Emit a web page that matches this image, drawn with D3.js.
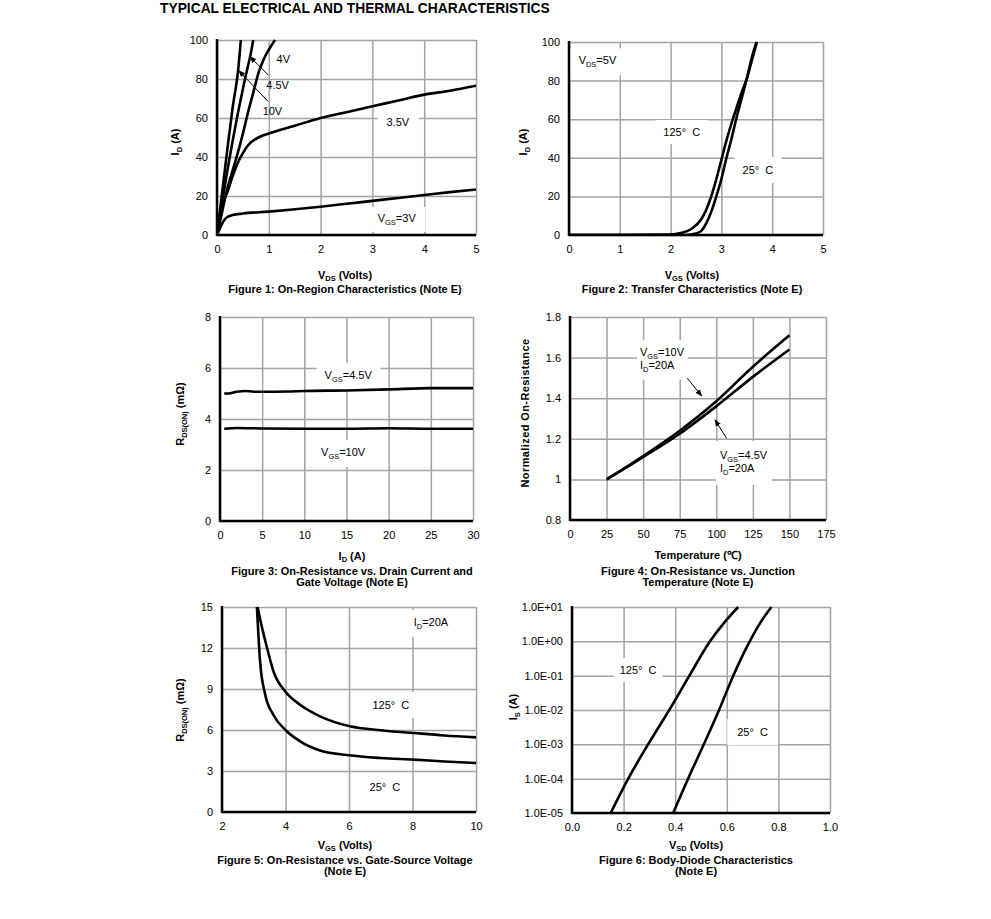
<!DOCTYPE html>
<html><head><meta charset="utf-8">
<script src="https://cdn.jsdelivr.net/npm/d3@7"></script>
<style>
body{margin:0;background:#fff}
text{font-family:"Liberation Sans",Arial,sans-serif;fill:#000;white-space:pre}
</style>
</head><body>
<svg id="c" width="991" height="919"></svg>
<script>
// ---------------- DATA ----------------
// Figure 1: On-region characteristics, VDS (V) vs ID (A)
const f1Vgs10  = [[0,0],[0.1,22],[0.2,44],[0.3,65],[0.41,85],[0.46,100]];
const f1Vgs45  = [[0,0],[0.1,17],[0.2,33],[0.3,48],[0.4,62],[0.5,75],[0.6,87],[0.64,91.5],[0.7,100]];
const f1Vgs4   = [[0,0],[0.1,12],[0.2,24],[0.3,33],[0.4,42],[0.5,52],[0.6,63],[0.7,73],[0.8,83],[0.9,90],[1.0,95],[1.12,100]];
const f1Vgs35  = [[0,0],[0.05,8],[0.1,15],[0.2,22],[0.3,30],[0.4,37],[0.5,42],[0.6,46],[0.8,50],[1,52],[1.5,56],[2,60],[2.5,63],[3,66],[3.5,69],[4,72],[4.5,74],[5,76.5]];
const f1Vgs3   = [[0,0],[0.05,3],[0.1,6],[0.15,8],[0.2,9.2],[0.3,10.2],[0.5,11],[1,12],[1.5,13.2],[2,14.5],[2.5,16],[3,17.5],[3.5,19],[4,20.5],[4.5,22],[5,23.3]];
const f1XTicks = [0,1,2,3,4,5];
const f1YTicks = [0,20,40,60,80,100];

// Figure 2: Transfer characteristics, VGS (V) vs ID (A)
const f2T125 = [[0,0],[1,0],[2,0.2],[2.2,1],[2.4,3],[2.6,8],[2.7,13],[2.8,20],[2.9,29],[3.0,39],[3.1,49],[3.2,58],[3.3,66],[3.4,74],[3.5,81],[3.6,90.5],[3.7,100]];
const f2T25  = [[0,0],[2.3,0],[2.5,0.8],[2.6,2],[2.7,6],[2.8,12],[2.9,20],[3.0,29],[3.1,40],[3.2,50],[3.3,61],[3.4,71],[3.5,81],[3.6,92],[3.69,100]];
const f2XTicks = [0,1,2,3,4,5];
const f2YTicks = [0,20,40,60,80,100];

// Figure 3: RDS(ON) (mOhm) vs ID (A)
const f3Vgs45 = [[0.5,5.0],[1,5.0],[2,5.07],[3,5.1],[4,5.07],[5,5.07],[8,5.08],[10,5.1],[15,5.12],[20,5.16],[25,5.21],[30,5.21]];
const f3Vgs10 = [[0.5,3.62],[2,3.65],[5,3.63],[10,3.62],[15,3.62],[20,3.64],[25,3.62],[30,3.62]];
const f3XTicks = [0,5,10,15,20,25,30];
const f3YTicks = [0,2,4,6,8];

// Figure 4: Normalized on-resistance vs temperature (°C)
const f4Vgs10 = [[25,1.0],[50,1.115],[75,1.24],[100,1.385],[125,1.555],[150,1.71]];
const f4Vgs45 = [[25,1.0],[50,1.11],[75,1.225],[100,1.36],[125,1.505],[150,1.64]];
const f4XTicks = [0,25,50,75,100,125,150,175];
const f4YTicks = [0.8,1.0,1.2,1.4,1.6,1.8];
const f4YLabels = ["0.8","1","1.2","1.4","1.6","1.8"];

// Figure 5: RDS(ON) (mOhm) vs VGS (V)
const f5T25  = [[3.1,15],[3.2,11.0],[3.36,8.6],[3.62,7.1],[4.0,6.0],[4.46,5.17],[5.09,4.5],[6,4.15],[7,3.95],[8.03,3.83],[9,3.7],[10,3.59]];
const f5T125 = [[3.12,15],[3.25,13.6],[3.42,12.0],[3.62,10.3],[4.0,8.8],[4.46,7.85],[5.09,7.0],[6.03,6.27],[7,5.98],[8.03,5.78],[9,5.6],[10,5.46]];
const f5XTicks = [2,4,6,8,10];
const f5YTicks = [0,3,6,9,12,15];

// Figure 6: Body diode, VSD (V) vs IS (A), log scale
const f6T125 = [[0.15,1e-5],[0.218,1e-4],[0.295,1e-3],[0.377,1e-2],[0.455,1e-1],[0.535,1],[0.59,3.5],[0.644,10]];
const f6T25  = [[0.392,1e-5],[0.45,1e-4],[0.511,1e-3],[0.570,1e-2],[0.625,1e-1],[0.689,1],[0.735,4],[0.773,10]];
const f6XTicks = [0,0.2,0.4,0.6,0.8,1.0];
const f6YTicks = [1e-5,1e-4,1e-3,1e-2,1e-1,1,10];

// ---------------- DRAWING ----------------
const svg = d3.select("#c");
const GRID = "#a3a3a3";

function rich(t, str, fs){
  const parts = str.split(/(_\{[^}]*\})/).filter(s => s.length);
  let sub = false;
  parts.forEach(p => {
    if (p.startsWith("_{")) {
      t.append("tspan").text(p.slice(2,-1)).attr("font-size", fs*0.68).attr("dy", fs*0.25);
      sub = true;
    } else {
      const ts = t.append("tspan").text(p);
      if (sub) { ts.attr("dy", -fs*0.25); sub = false; }
    }
  });
  return t;
}

svg.append("defs").append("marker")
  .attr("id","arr").attr("viewBox","0 0 10 10").attr("refX",9).attr("refY",5)
  .attr("markerWidth",7).attr("markerHeight",7).attr("orient","auto")
  .append("path").attr("d","M0,1 L10,5 L0,9 z").attr("fill","#000");

function panel(c){
  const g = svg.append("g");
  const x = d3.scaleLinear().domain(c.xDomain).range([c.x0, c.x1]);
  const y = (c.log ? d3.scaleLog() : d3.scaleLinear()).domain(c.yDomain).range([c.y1, c.y0]);
  const H = c.y1 - c.y0, W = c.x1 - c.x0;

  const ax = g.append("g").attr("transform",`translate(0,${c.y1})`)
    .call(d3.axisBottom(x).tickValues(c.xTicks).tickSize(-H).tickPadding(10).tickFormat(c.xFormat || (d=>d)));
  const ay = g.append("g").attr("transform",`translate(${c.x0},0)`)
    .call(d3.axisLeft(y).tickValues(c.yTicks).tickSize(-W).tickPadding(9).tickFormat(c.yFormat || (d=>d)));
  [ax, ay].forEach(a => {
    a.select(".domain").remove();
    a.selectAll(".tick line").attr("stroke", GRID).attr("stroke-width", 1.5);
    a.selectAll(".tick text").attr("font-size", 11).attr("font-family", '"Liberation Sans",Arial,sans-serif').attr("fill","#000");
  });

  // label boxes (mask grid) + labels
  const labG = g.append("g");
  (c.labels || []).forEach(L => {
    const lines = L.text.split("\n");
    const t = labG.append("text").attr("font-size", 11)
      .attr("text-anchor", L.anchor || "middle");
    lines.forEach((ln, i) => {
      const sub = t.append("tspan").attr("x", x(L.x)).attr("y", y(L.y) + i*13 + 4);
      rich(sub, ln, 11);
    });
    if (L.box !== false) {
      const bb = t.node().getBBox();
      const px = L.padX == null ? 8 : L.padX, py = L.padY == null ? 4 : L.padY;
      labG.insert("rect", "text").attr("x", bb.x - px).attr("y", bb.y - py)
        .attr("width", bb.width + 2*px).attr("height", bb.height + 2*py).attr("fill", "#fff");
    }
  });
  labG.selectAll("text").raise();

  // axes (black left & bottom)
  g.append("line").attr("x1", c.x0).attr("x2", c.x1).attr("y1", c.y1).attr("y2", c.y1)
    .attr("stroke","#000").attr("stroke-width",2.5);
  g.append("line").attr("x1", c.x0).attr("x2", c.x0).attr("y1", c.y0 - 1).attr("y2", c.y1 + 1)
    .attr("stroke","#000").attr("stroke-width",2.5);

  // curves
  const clipId = "clip" + c.id;
  svg.select("defs").append("clipPath").attr("id", clipId)
    .append("rect").attr("x", c.x0).attr("y", c.y0 - 1).attr("width", W + 2).attr("height", H + 2);
  const line = d3.line().x(d => x(d[0])).y(d => y(d[1])).curve(d3.curveMonotoneX);
  c.series.forEach(s => {
    g.append("path").attr("d", line(s)).attr("fill","none").attr("stroke","#000")
      .attr("stroke-width",2.6).attr("stroke-linejoin","round").attr("clip-path",`url(#${clipId})`);
  });

  // arrows
  (c.arrows || []).forEach(a => {
    g.append("line").attr("x1", x(a[0][0])).attr("y1", y(a[0][1])).attr("x2", x(a[1][0])).attr("y2", y(a[1][1]))
      .attr("stroke","#000").attr("stroke-width",1).attr("marker-end","url(#arr)");
  });

  // axis titles and captions
  const yt = g.append("text").attr("font-size", 11).attr("font-weight","bold").attr("text-anchor","middle")
    .attr("transform", `translate(${c.yTitlePos[0]},${c.yTitlePos[1]}) rotate(-90)`).attr("dy","0.35em")
    .attr("letter-spacing", c.yTitleSpacing || 0);
  rich(yt, c.yTitle, 11);
  const xt = g.append("text").attr("font-size", 11).attr("font-weight","bold").attr("text-anchor","middle")
    .attr("x", c.capX).attr("y", c.xTitleY + 2.5);
  rich(xt, c.xTitle, 11);
  c.caption.forEach((ln, i) => {
    g.append("text").attr("font-size", 11).attr("font-weight","bold").attr("text-anchor","middle")
      .attr("x", c.capX).attr("y", c.capY + i*11.5 + 4.5).text(ln);
  });
}

svg.append("text").attr("x",160).attr("y",13).attr("font-size",13.8).attr("font-weight","bold")
  .text("TYPICAL ELECTRICAL AND THERMAL CHARACTERISTICS");

panel({id:1, x0:217, x1:476, y0:40, y1:235, xDomain:[0,5], yDomain:[0,100],
  xTicks:f1XTicks, yTicks:f1YTicks,
  series:[f1Vgs10, f1Vgs45, f1Vgs4, f1Vgs35, f1Vgs3],
  labels:[
    {text:"4V", x:1.28, y:90.5, box:false},
    {text:"4.5V", x:1.17, y:77, box:false},
    {text:"10V", x:1.07, y:63.5, box:false},
    {text:"3.5V", x:3.49, y:58, padX:9, padY:5},
    {text:"V_{GS}=3V", x:3.47, y:8.7, padX:9, padY:5}
  ],
  arrows:[[[0.99,82],[0.64,91.4]], [[0.99,68.4],[0.42,84.3]]],
  yTitle:"I_{D} (A)", yTitlePos:[175,142],
  xTitle:"V_{DS} (Volts)", xTitleY:276, capX:345, capY:288,
  caption:["Figure 1: On-Region Characteristics (Note E)"]});

panel({id:2, x0:569, x1:823, y0:42, y1:235, xDomain:[0,5], yDomain:[0,100],
  xTicks:f2XTicks, yTicks:f2YTicks,
  series:[f2T125, f2T25],
  labels:[
    {text:"V_{DS}=5V", x:0.56, y:90.5, padX:8, padY:6},
    {text:"125°\u00a0 C", x:2.22, y:53.4, padX:8, padY:6},
    {text:"25°\u00a0 C", x:3.72, y:33.7, padX:8, padY:7}
  ],
  yTitle:"I_{D} (A)", yTitlePos:[523,142],
  xTitle:"V_{GS} (Volts)", xTitleY:276, capX:692, capY:288,
  caption:["Figure 2: Transfer Characteristics (Note E)"]});

panel({id:3, x0:220, x1:473, y0:317, y1:521, xDomain:[0,30], yDomain:[0,8],
  xTicks:f3XTicks, yTicks:f3YTicks,
  series:[f3Vgs45, f3Vgs10],
  labels:[
    {text:"V_{GS}=4.5V", x:15.2, y:5.73, padX:8, padY:6},
    {text:"V_{GS}=10V", x:14.6, y:2.7, padX:8, padY:6}
  ],
  yTitle:"R_{DS(ON)} (mΩ)", yTitlePos:[180,414],
  xTitle:"I_{D} (A)", xTitleY:557, capX:352, capY:570,
  caption:["Figure 3: On-Resistance vs. Drain Current and","Gate Voltage (Note E)"]});

panel({id:4, x0:570, x1:826, y0:317, y1:520, xDomain:[0,175], yDomain:[0.8,1.8],
  xTicks:f4XTicks, yTicks:f4YTicks, yFormat:(d,i)=>f4YLabels[i],
  series:[f4Vgs10, f4Vgs45],
  labels:[
    {text:"V_{GS}=10V\nI_{D}=20A", x:47.8, y:1.628, anchor:"start", padX:3, padY:6},
    {text:"V_{GS}=4.5V\nI_{D}=20A", x:102.5, y:1.12, anchor:"start", padX:4, padY:8}
  ],
  arrows:[[[80.2,1.498],[90,1.411]], [[107.1,1.202],[99.1,1.293]]],
  yTitle:"Normalized On-Resistance", yTitlePos:[525,413], yTitleSpacing:0.4,
  xTitle:"Temperature (℃)", xTitleY:556, capX:698, capY:570,
  caption:["Figure 4: On-Resistance vs. Junction","Temperature (Note E)"]});

panel({id:5, x0:222, x1:476, y0:607, y1:812, xDomain:[2,10], yDomain:[0,15],
  xTicks:f5XTicks, yTicks:f5YTicks,
  series:[f5T25, f5T125],
  labels:[
    {text:"I_{D}=20A", x:8.58, y:13.9, padX:6, padY:6},
    {text:"125°\u00a0 C", x:7.32, y:7.83, padX:8, padY:7},
    {text:"25°\u00a0 C", x:7.13, y:1.83, padX:10, padY:8}
  ],
  yTitle:"R_{DS(ON)} (mΩ)", yTitlePos:[180,710],
  xTitle:"V_{GS} (Volts)", xTitleY:846, capX:345, capY:859,
  caption:["Figure 5: On-Resistance vs. Gate-Source Voltage","(Note E)"]});

const expFmt = d => { const e = Math.round(Math.log10(d)); return "1.0E" + (e >= 0 ? "+" : "-") + String(Math.abs(e)).padStart(2,"0"); };
panel({id:6, x0:572, x1:830, y0:607, y1:813, xDomain:[0,1], yDomain:[1e-5,10], log:true,
  xTicks:f6XTicks, yTicks:f6YTicks, xFormat:d3.format(".1f"), yFormat:expFmt,
  series:[f6T125, f6T25],
  labels:[
    {text:"125°\u00a0 C", x:0.256, y:0.146, padX:6, padY:6},
    {text:"25°\u00a0 C", x:0.70, y:0.0023, padX:10, padY:7}
  ],
  yTitle:"I_{S} (A)", yTitlePos:[513,707],
  xTitle:"V_{SD} (Volts)", xTitleY:846, capX:696, capY:859,
  caption:["Figure 6: Body-Diode Characteristics","(Note E)"]});
</script>
</body></html>
